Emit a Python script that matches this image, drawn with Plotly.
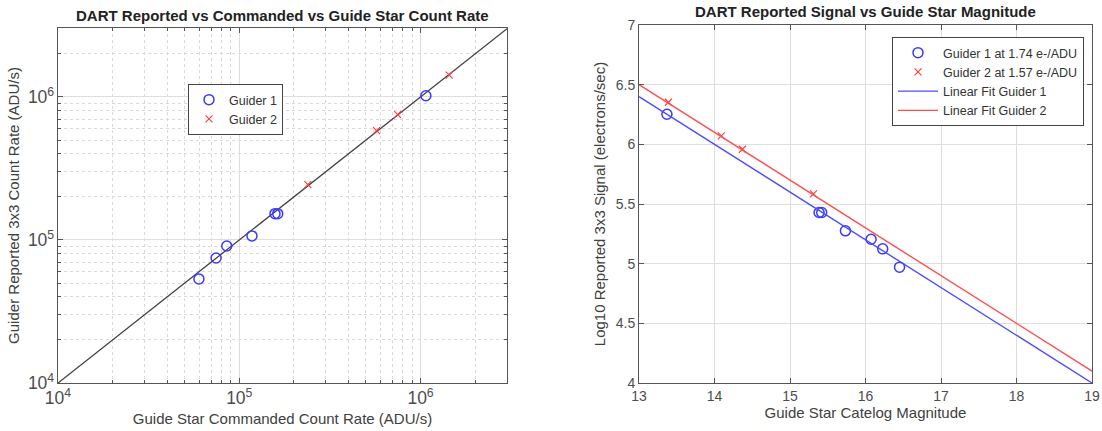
import plotly.graph_objects as go

# ---- Left panel data (ADU/s) ----
g1_cmd = [59900, 74500, 85300, 117500, 157400, 163000, 1070000]
g1_rep = [53400, 74800, 90800, 106700, 152700, 152700, 1020000]
g2_cmd = [239000, 572000, 748000, 1440000]
g2_rep = [243700, 582000, 753000, 1420000]
unity = [1e4, 3e6]

# ---- Right panel data ----
g1_mag = [13.37, 15.385, 15.42, 15.734, 16.074, 16.228, 16.451]
g1_log = [6.252, 5.429, 5.429, 5.275, 5.205, 5.124, 4.971]
g2_mag = [13.39, 14.09, 14.37, 15.31]
g2_log = [6.353, 6.071, 5.959, 5.585]
fit_mag = [13, 19]
fit1_log = [6.4, 4.0]
fit2_log = [6.5, 4.1]

W, H = 1102, 431
FONT = "Liberation Sans, Arial, sans-serif"
TICKC = "#4d4d4d"
AXC = "#555555"
GRID = "#dedede"

fig = go.Figure()

# left panel
fig.add_trace(go.Scatter(x=unity, y=unity, mode="lines", line=dict(color="#404040", width=1.3),
                         showlegend=False, xaxis="x", yaxis="y", hoverinfo="skip"))
fig.add_trace(go.Scatter(x=g1_cmd, y=g1_rep, mode="markers", name="Guider 1",
                         marker=dict(symbol="circle-open", size=10, color="#3a3aff", line=dict(width=1.5)),
                         xaxis="x", yaxis="y", legend="legend"))
fig.add_trace(go.Scatter(x=g2_cmd, y=g2_rep, mode="markers", name="Guider 2",
                         marker=dict(symbol="x-thin-open", size=7, color="#ff4040", line=dict(width=1.2)),
                         xaxis="x", yaxis="y", legend="legend"))

# right panel
fig.add_trace(go.Scatter(x=g1_mag, y=g1_log, mode="markers", name="Guider 1 at 1.74 e-/ADU",
                         marker=dict(symbol="circle-open", size=10, color="#3a3aff", line=dict(width=1.5)),
                         xaxis="x2", yaxis="y2", legend="legend2"))
fig.add_trace(go.Scatter(x=g2_mag, y=g2_log, mode="markers", name="Guider 2 at 1.57 e-/ADU",
                         marker=dict(symbol="x-thin-open", size=7, color="#ff4040", line=dict(width=1.2)),
                         xaxis="x2", yaxis="y2", legend="legend2"))
fig.add_trace(go.Scatter(x=fit_mag, y=fit1_log, mode="lines", name="Linear Fit Guider 1",
                         line=dict(color="#4d4dff", width=1.4), xaxis="x2", yaxis="y2", legend="legend2"))
fig.add_trace(go.Scatter(x=fit_mag, y=fit2_log, mode="lines", name="Linear Fit Guider 2",
                         line=dict(color="#ff4d4d", width=1.4), xaxis="x2", yaxis="y2", legend="legend2"))

def px_x(p):
    return p / W

def px_y(p):
    return 1 - p / H

common = dict(showline=True, linecolor=AXC, linewidth=1, mirror="allticks", ticks="inside",
              ticklen=5, tickcolor=AXC, tickfont=dict(family=FONT, size=14, color=TICKC),
              showgrid=True, gridcolor=GRID, gridwidth=1, zeroline=False, automargin=False,
              title_font=dict(family=FONT, size=15, color="#404040"))

logminor = dict(ticks="inside", ticklen=3, tickcolor=AXC, showgrid=True, gridcolor="#d9d9d9",
                griddash="dot", dtick="D1")

fig.update_layout(
    width=W, height=H, margin=dict(l=0, r=0, t=0, b=0),
    paper_bgcolor="white", plot_bgcolor="white",
    font=dict(family=FONT, color="#404040"),
    xaxis=dict(common, type="log", range=[4, 6.477], dtick=1, exponentformat="power",
               domain=[px_x(58), px_x(507)], anchor="y", minor=logminor,
               title=dict(text="Guide Star Commanded Count Rate (ADU/s)", standoff=6)),
    yaxis=dict(common, type="log", range=[4, 6.482], dtick=1, exponentformat="power",
               domain=[px_y(383), px_y(28)], anchor="x", minor=logminor,
               title=dict(text="Guider Reported 3x3 Count Rate (ADU/s)", standoff=4)),
    xaxis2=dict(common, range=[13, 19], dtick=1, domain=[px_x(639), px_x(1092)], anchor="y2",
                title=dict(text="Guide Star Catelog Magnitude", standoff=4)),
    yaxis2=dict(common, range=[4, 7], dtick=0.5, domain=[px_y(383), px_y(25)], anchor="x2",
                title=dict(text="Log10 Reported 3x3 Signal (electrons/sec)", standoff=6)),
    legend=dict(x=px_x(188), y=px_y(84), xanchor="left", yanchor="top", bgcolor="white",
                bordercolor="#444", borderwidth=1, font=dict(family=FONT, size=12.5, color="#333"),
                itemwidth=30, tracegroupgap=0),
    legend2=dict(x=px_x(892), y=px_y(37), xanchor="left", yanchor="top", bgcolor="white",
                 bordercolor="#444", borderwidth=1, font=dict(family=FONT, size=12.5, color="#333"),
                 itemwidth=40, tracegroupgap=0),
    annotations=[
        dict(text="<b>DART Reported vs Commanded vs Guide Star Count Rate</b>", x=(px_x(58) + px_x(507)) / 2,
             y=px_y(15), xref="paper", yref="paper", showarrow=False, xanchor="center", yanchor="middle",
             font=dict(family=FONT, size=15, color="#222")),
        dict(text="<b>DART Reported Signal vs Guide Star Magnitude</b>", x=(px_x(639) + px_x(1092)) / 2,
             y=px_y(12), xref="paper", yref="paper", showarrow=False, xanchor="center", yanchor="middle",
             font=dict(family=FONT, size=15, color="#222")),
    ],
)

fig.write_html("out.html", config={"displayModeBar": False},
               post_script="document.body.style.margin='0px';")
